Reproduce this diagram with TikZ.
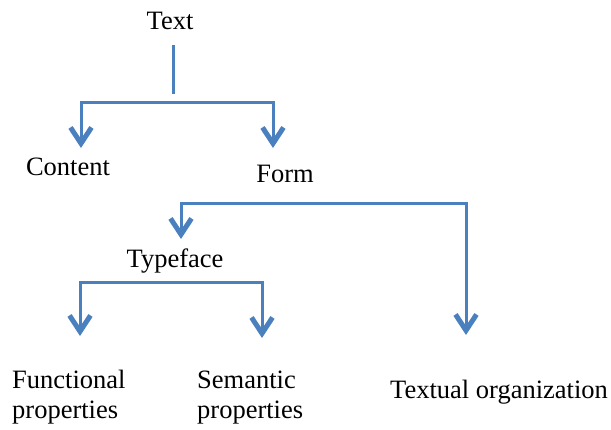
\documentclass[tikz,border=0pt]{standalone}
\usepackage{fontspec}
\setmainfont{Liberation Serif}
\usetikzlibrary{arrows.meta}
\definecolor{linkblue}{RGB}{74,128,190}
\begin{document}
\begin{tikzpicture}[x=1pt,y=-1pt,
    lbl/.style={font=\fontsize{26.5}{30}\selectfont, inner sep=0pt},
    link/.style={draw=linkblue, line width=3pt},
    arr/.style={link, -{Straight Barb[length=16pt,width=21pt,line width=5pt]}}]
    \useasboundingbox (0,0) rectangle (611,429);

    % labels
    \node[lbl, anchor=base] (text) at (170,29) {Text};
    \node[lbl, anchor=base] (content) at (68,175) {Content};
    \node[lbl, anchor=base] (form) at (285,182) {Form};
    \node[lbl, anchor=base] (typeface) at (175,267) {Typeface};
    \node[lbl, anchor=north west, align=left] (functional) at (12,370) {Functional\\properties};
    \node[lbl, anchor=north west, align=left] (semantic) at (197,371) {Semantic\\properties};
    \node[lbl, anchor=base west] (textual) at (390,398) {Textual organization};

    % branch points
    \coordinate (stemtop) at (173,45);
    \coordinate (stembot) at (173,94);
    \coordinate (b1l) at (81,102);
    \coordinate (b1r) at (273,102);
    \coordinate (b2l) at (181,203);
    \coordinate (b2r) at (466,203);
    \coordinate (b3l) at (80,282);
    \coordinate (b3r) at (262,282);

    \draw[link] (stemtop) -- (stembot);
    \draw[arr] (b1r) -- (b1l) -- (b1l |- 0,148);
    \draw[arr] (b1l) -- (b1r) -- (b1r |- 0,148);
    \draw[arr] (b2r) -- (b2l) -- (b2l |- 0,239);
    \draw[arr] (b2l) -- (b2r) -- (b2r |- 0,335);
    \draw[arr] (b3r) -- (b3l) -- (b3l |- 0,336);
    \draw[arr] (b3l) -- (b3r) -- (b3r |- 0,338);
\end{tikzpicture}
\end{document}
